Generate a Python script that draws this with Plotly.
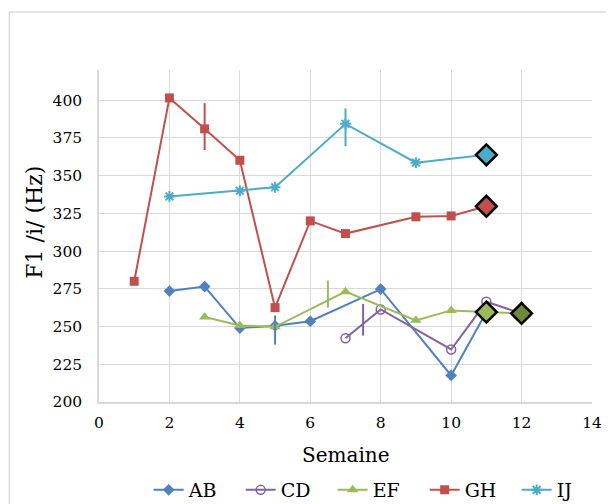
import plotly.graph_objects as go

# ---- data ----
ab_x = [2, 3, 4, 5, 6, 8, 10, 11]
ab_y = [273.5, 276.5, 249, 250.5, 253.5, 274.8, 217.6, 259.6]

cd_x = [7, 8, 10, 11, 12]
cd_y = [242.3, 261.3, 234.8, 266.4, 258.7]

ef_x = [3, 4, 5, 7, 9, 10, 11, 12]
ef_y = [256.3, 250.7, 249.8, 273.1, 254.1, 260.7, 259.6, 258.7]

gh_x = [1, 2, 3, 4, 5, 6, 7, 9, 10, 11]
gh_y = [280, 401.5, 381, 360.2, 262.5, 320, 311.6, 322.7, 323.3, 329.7]

ij_x = [2, 4, 5, 7, 9, 11]
ij_y = [336.2, 340, 342.3, 384.3, 358.6, 363.8]

# final-week highlighted values (black-outlined diamonds)
last_x = [11, 11, 11, 12]
last_y = [363.8, 329.7, 259.6, 258.7]

# vertical marks (x, low, high) per series
mark_series = ["GH", "AB", "EF", "IJ", "CD"]
mark_x = [3, 5, 6.5, 7, 7.5]
mark_lo = [367, 238, 262.5, 369.5, 244]
mark_hi = [398, 257.3, 280.5, 394.5, 265]

x_ticks = [0, 2, 4, 6, 8, 10, 12, 14]
y_ticks = [200, 225, 250, 275, 300, 325, 350, 375, 400]

colors = {"AB": "#4F81BD", "CD": "#8064A2", "EF": "#9BBB59",
          "GH": "#C0504D", "IJ": "#4BACC6"}
last_colors = ["#4BACC6", "#C0504D", "#9BBB59", "#6E8A38"]

FONT = "DejaVu Serif"

# figure geometry (page body adds an 8px offset)
W, H = 606, 496
L, R, T, B = 91, 17, 62, 102
PW, PH = W - L - R, H - T - B


def px_x(p):  # figure px -> paper x
    return (p - L) / PW


def px_y(p):  # figure px -> paper y
    return (H - B - p) / PH


fig = go.Figure()

series = [
    ("AB", ab_x, ab_y, dict(symbol="diamond", size=9)),
    ("CD", cd_x, cd_y, dict(symbol="circle-open", size=9, line=dict(width=1.5))),
    ("EF", ef_x, ef_y, dict(symbol="triangle-up", size=10)),
    ("GH", gh_x, gh_y, dict(symbol="square", size=9)),
    ("IJ", ij_x, ij_y, dict(symbol="asterisk-open", size=9, line=dict(width=2))),
]

for name, xs, ys, mk in series:
    c = colors[name]
    mk = dict(mk)
    mk["color"] = c
    if "line" in mk:
        mk["line"] = dict(mk["line"], color=c)
    fig.add_trace(go.Scatter(x=xs, y=ys, name=name, mode="lines+markers",
                             line=dict(color=c, width=2), marker=mk))

# vertical marks
for s, mx, lo, hi in zip(mark_series, mark_x, mark_lo, mark_hi):
    fig.add_trace(go.Scatter(x=[mx, mx], y=[lo, hi], mode="lines",
                             line=dict(color=colors[s], width=2),
                             showlegend=False, hoverinfo="skip"))

fig.add_trace(go.Scatter(x=last_x, y=last_y, mode="markers", showlegend=False,
                         marker=dict(symbol="diamond", size=16, color=last_colors,
                                     line=dict(color="black", width=2.5))))

fig.update_layout(
    width=W, height=H,
    margin=dict(l=L, r=R, t=T, b=B),
    paper_bgcolor="white", plot_bgcolor="white",
    font=dict(family=FONT, color="black", size=15),
    showlegend=True,
    legend=dict(orientation="h", xref="paper", yref="container",
                x=px_x(373.5), xanchor="center", y=(H - 482) / H, yanchor="middle",
                font=dict(family=FONT, size=19), entrywidth=47, entrywidthmode="pixels"),
    xaxis=dict(range=[0, 14], tickvals=x_ticks, ticktext=[str(v) for v in x_ticks],
               showgrid=True, gridcolor="#D9D9D9", gridwidth=1,
               showline=True, linecolor="#D9D9D9", linewidth=1.5,
               zeroline=False, ticks="", ticklabelstandoff=6,
               tickfont=dict(family=FONT, size=15.5)),
    yaxis=dict(range=[200, 420], tickvals=y_ticks, ticktext=[str(v) for v in y_ticks],
               showgrid=True, gridcolor="#D9D9D9", gridwidth=1,
               showline=True, linecolor="#D9D9D9", linewidth=1.5,
               zeroline=False, ticks="", ticklabelstandoff=12,
               tickfont=dict(family=FONT, size=15.5)),
    annotations=[
        dict(text="Semaine", xref="paper", yref="paper", x=0.5, y=px_y(447),
             xanchor="center", yanchor="middle", showarrow=False,
             font=dict(family=FONT, size=20)),
        dict(text="F1 /i/ (Hz)", xref="paper", yref="paper", x=px_x(25),
             y=px_y(214), xanchor="center", yanchor="middle", textangle=-90,
             showarrow=False, font=dict(family=FONT, size=22)),
    ],
    shapes=[dict(type="rect", xref="paper", yref="paper",
                 x0=px_x(0.5), x1=px_x(640), y0=px_y(540), y1=px_y(4),
                 line=dict(color="#D9D9D9", width=1.5), fillcolor="rgba(0,0,0,0)",
                 layer="below")],
)

fig.write_html("out.html")
